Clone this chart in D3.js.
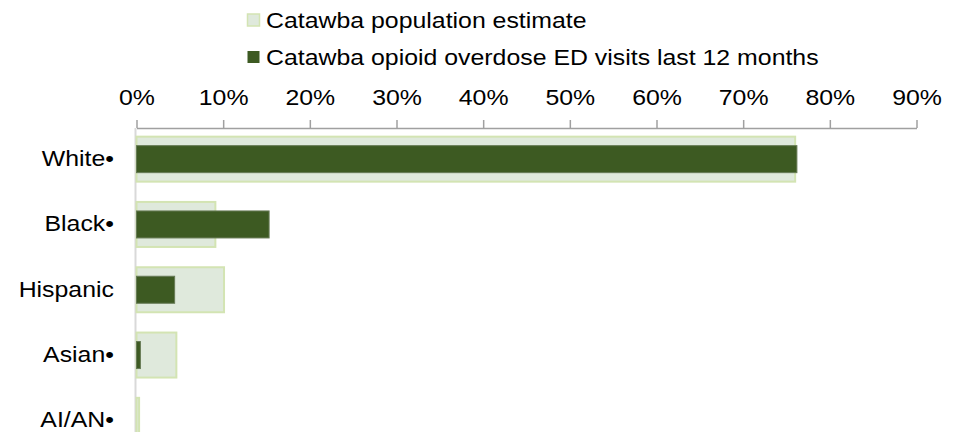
<!DOCTYPE html>
<html>
<head>
<meta charset="utf-8">
<script src="https://cdn.jsdelivr.net/npm/d3@7"></script>
<style>
    html, body { margin: 0; padding: 0; background: #fff; }
    svg { display: block; }
    text { font-family: "Liberation Sans", Arial, sans-serif; fill: #000; }
</style>
</head>
<body>
<div id="chart"></div>
<script>
'use strict';

var categories = ["White\u2022", "Black\u2022", "Hispanic", "Asian\u2022", "AI/AN\u2022"];
var populationEstimate = [76.0, 9.1, 10.1, 4.6, 0.3];
var edVisits = [76.2, 15.3, 4.4, 0.45, 0];
var xTicks = [0, 10, 20, 30, 40, 50, 60, 70, 80, 90];
var seriesNames = ["Catawba population estimate", "Catawba opioid overdose ED visits last 12 months"];

var outerWidth = 961,
    outerHeight = 432,
    fontSize = 22,
    stretch = 1.13,
    popFill = "#dfe9dc",
    popStroke = "#d3e4b3",
    edFill = "#3d5a22",
    edStroke = "#667a55";

var svg = d3.select("#chart")
    .append("svg")
    .attr("width", outerWidth)
    .attr("height", outerHeight);

var x = d3.scaleLinear()
    .domain([0, 90])
    .range([136.5, 916.5]);

var y = d3.scaleBand()
    .domain(categories)
    .range([126.5, 126.5 + 65.3 * categories.length])
    .padding(0);

var rows = categories.map(function (c, i) {
    return {name: c, pop: populationEstimate[i], ed: edVisits[i]};
});

// vertical category axis line
svg.append("line")
    .attr("x1", 135.5).attr("x2", 135.5)
    .attr("y1", 128).attr("y2", outerHeight)
    .attr("stroke", "#d9d9d9")
    .attr("stroke-width", 2);

// population bars (wide, light)
svg.append("g").selectAll("rect")
    .data(rows)
    .enter().append("rect")
    .attr("x", x(0))
    .attr("y", function (d) { return y(d.name) + y.bandwidth() / 2 - 22.5; })
    .attr("width", function (d) { return x(d.pop) - x(0); })
    .attr("height", 45)
    .attr("fill", popFill)
    .attr("stroke", popStroke)
    .attr("stroke-width", 2);

// ED visit bars (narrow, dark)
svg.append("g").selectAll("rect")
    .data(rows.filter(function (d) { return d.ed > 0; }))
    .enter().append("rect")
    .attr("x", x(0))
    .attr("y", function (d) { return y(d.name) + y.bandwidth() / 2 - 13.5; })
    .attr("width", function (d) { return x(d.ed) - x(0); })
    .attr("height", 27)
    .attr("fill", edFill)
    .attr("stroke", edStroke)
    .attr("stroke-width", 1);

// top percent axis
var xAxis = d3.axisTop(x)
    .tickValues(xTicks)
    .tickFormat(function (d) { return d + "%"; })
    .tickSize(8)
    .tickSizeOuter(0)
    .tickPadding(15);

var gx = svg.append("g")
    .attr("transform", "translate(0,128)")
    .call(xAxis);

gx.select(".domain").attr("stroke", "#a0a0a0").attr("stroke-width", 1.5);
gx.selectAll(".tick line").attr("stroke", "#a0a0a0").attr("stroke-width", 1.5);
gx.selectAll(".tick text")
    .attr("font-size", fontSize)
    .attr("fill", "#000")
    .attr("transform", "scale(" + stretch + ",1)");

// category labels
var yAxis = d3.axisLeft(y)
    .tickSize(0)
    .tickPadding(19.5);

var gy = svg.append("g")
    .attr("transform", "translate(136,0)")
    .call(yAxis);

gy.select(".domain").remove();
gy.selectAll(".tick text")
    .attr("font-size", fontSize)
    .attr("fill", "#000")
    .attr("transform", "scale(" + stretch + ",1)");

// legend
var legend = svg.append("g").selectAll("g")
    .data(seriesNames)
    .enter().append("g")
    .attr("transform", function (d, i) { return "translate(247," + (20 + i * 37) + ")"; });

legend.append("rect")
    .attr("x", 0.5)
    .attr("y", -6)
    .attr("width", 12)
    .attr("height", 12)
    .attr("fill", function (d, i) { return i === 0 ? popFill : edFill; })
    .attr("stroke", function (d, i) { return i === 0 ? popStroke : "none"; })
    .attr("stroke-width", 1.5);

legend.append("text")
    .attr("transform", "translate(19,0) scale(" + stretch + ",1)")
    .attr("dy", "0.35em")
    .attr("font-size", fontSize)
    .text(function (d) { return d; });
</script>
</body>
</html>
